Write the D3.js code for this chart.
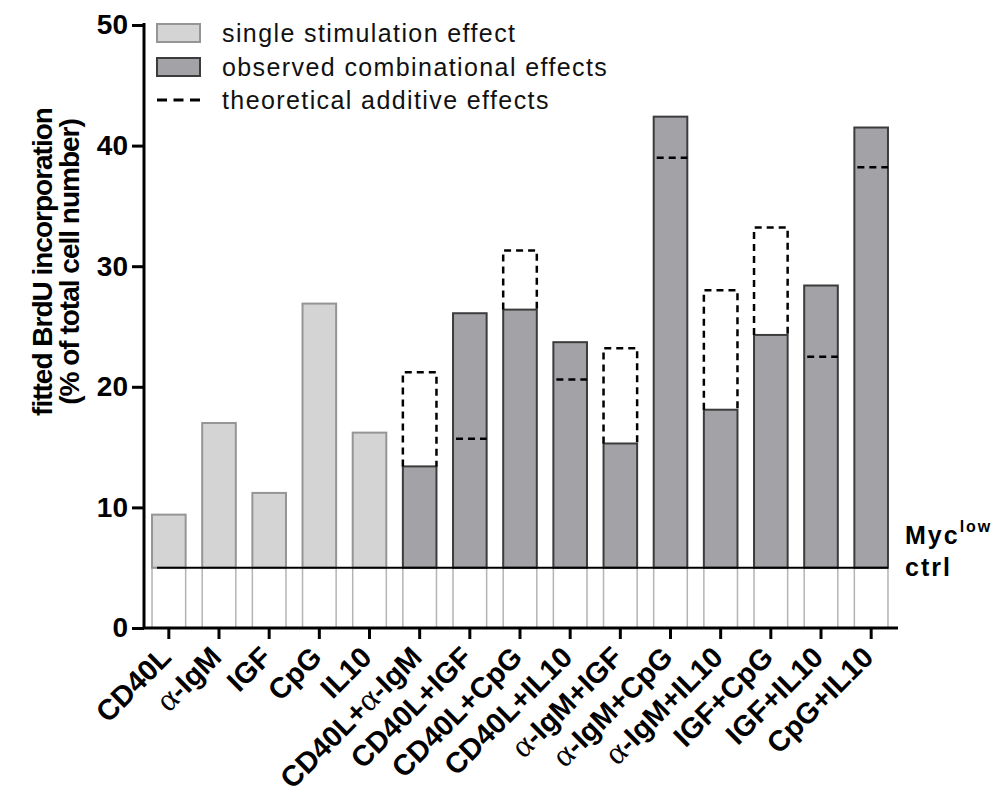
<!DOCTYPE html>
<html>
<head>
<meta charset="utf-8">
<script src="https://cdn.jsdelivr.net/npm/d3@7/dist/d3.min.js"></script>
<style>
  html, body { margin: 0; padding: 0; background: #fff; }
  svg { display: block; font-family: "Liberation Sans", Arial, Helvetica, sans-serif; }
</style>
</head>
<body>
<svg id="chart" width="991" height="787"></svg>
<script>
// Stimulation conditions (x categories)
const categories = [
  "CD40L", "α-IgM", "IGF", "CpG", "IL10",
  "CD40L+α-IgM", "CD40L+IGF", "CD40L+CpG", "CD40L+IL10",
  "α-IgM+IGF", "α-IgM+CpG", "α-IgM+IL10",
  "IGF+CpG", "IGF+IL10", "CpG+IL10"
];
// Bar type: single stimulation vs. observed combination
const barType = [
  "single", "single", "single", "single", "single",
  "combo", "combo", "combo", "combo", "combo",
  "combo", "combo", "combo", "combo", "combo"
];
// Fitted BrdU incorporation (% of total cell number)
const observed = [9.4, 17.0, 11.2, 26.9, 16.2, 13.4, 26.1, 26.4, 23.7, 15.3, 42.4, 18.1, 24.3, 28.4, 41.5];
// Theoretical additive effect of the two single stimulations
const theoretical = [null, null, null, null, null, 21.2, 15.7, 31.3, 20.6, 23.2, 39.0, 28.0, 33.2, 22.5, 38.2];
// Myc-low unstimulated control level
const ctrlLevel = 5;
const yTicks = [0, 10, 20, 30, 40, 50];
const legendLabels = ["single stimulation effect", "observed combinational effects", "theoretical additive effects"];

const svg = d3.select("#chart");
const fillSingle = "#d4d4d4", strokeSingle = "#959595";
const fillCombo = "#a3a2a7", strokeCombo = "#3c3c3c";

const y = d3.scaleLinear().domain([0, 50]).range([628, 25]);
const x = d3.scaleBand().domain(categories).range([144, 896])
  .paddingInner(0.33).paddingOuter(0.16);
const bw = x.bandwidth();

const rows = categories.map((c, i) => ({ c, type: barType[i], v: observed[i], t: theoretical[i] }));

// Lower part of each bar (0 to control level): open outline
svg.append("g").selectAll("rect").data(rows).join("rect")
  .attr("x", d => x(d.c)).attr("width", bw)
  .attr("y", y(ctrlLevel)).attr("height", y(0) - y(ctrlLevel))
  .attr("fill", "#fff").attr("stroke", "#b4b4b4").attr("stroke-width", 1.5);

// Filled bar part above control level
svg.append("g").selectAll("rect").data(rows).join("rect")
  .attr("x", d => x(d.c)).attr("width", bw)
  .attr("y", d => y(d.v)).attr("height", d => y(ctrlLevel) - y(d.v))
  .attr("fill", d => d.type === "single" ? fillSingle : fillCombo)
  .attr("stroke", d => d.type === "single" ? strokeSingle : strokeCombo)
  .attr("stroke-width", 2);

// Theoretical additive effects: dashed box above bar or dashed line inside it
const theo = svg.append("g").attr("fill", "none").attr("stroke", "#000")
  .attr("stroke-width", 2.5).attr("stroke-dasharray", "7,5");
rows.filter(d => d.t != null).forEach(d => {
  const x0 = x(d.c), x1 = x(d.c) + bw;
  if (d.t > d.v) {
    theo.append("path")
      .attr("d", `M${x0},${y(d.v)}V${y(d.t)}H${x1}V${y(d.v)}`);
  } else {
    theo.append("line")
      .attr("x1", x0 + 3).attr("x2", x1)
      .attr("y1", y(d.t)).attr("y2", y(d.t));
  }
});

// Control baseline
svg.append("line")
  .attr("x1", x(categories[0]) + 5).attr("x2", x(categories[categories.length - 1]) + bw)
  .attr("y1", y(ctrlLevel)).attr("y2", y(ctrlLevel))
  .attr("stroke", "#000").attr("stroke-width", 2);

// Y axis
const yAxis = svg.append("g").attr("transform", "translate(144,0)")
  .call(d3.axisLeft(y).tickValues(yTicks).tickSize(12).tickSizeOuter(0).tickPadding(4));
yAxis.select(".domain").attr("stroke-width", 3).attr("d", `M0,${y(0)}V${y(50) - 2}`);
yAxis.selectAll(".tick line").attr("stroke-width", 3);
yAxis.selectAll(".tick text").attr("font-size", 28).attr("font-weight", "bold")
  .attr("font-family", "'Liberation Sans', Arial, sans-serif").attr("fill", "#000");

// X axis
const xAxis = svg.append("g").attr("transform", `translate(0,${y(0)})`)
  .call(d3.axisBottom(x).tickSize(11).tickSizeOuter(0));
xAxis.select(".domain").attr("stroke-width", 3).attr("d", `M${x.range()[0]},0H${x.range()[1] + 2}`);
xAxis.selectAll(".tick line").attr("stroke-width", 3);
xAxis.selectAll(".tick text").remove();

// Rotated category labels; α drawn from a serif face
const xl = svg.append("g");
categories.forEach(c => {
  const t = xl.append("text")
    .attr("transform", `translate(${x(c) + bw / 2 + 4},659) rotate(-45)`)
    .attr("text-anchor", "end")
    .attr("font-size", 29).attr("font-weight", "bold").attr("fill", "#000");
  c.split(/(α)/).filter(s => s.length).forEach(s => {
    const ts = t.append("tspan").text(s);
    if (s === "α") ts.attr("font-family", "'Liberation Serif', 'DejaVu Serif', serif")
      .attr("font-weight", "normal").attr("font-size", 33);
  });
});

// Y axis title
const yt = svg.append("g").attr("transform", "translate(0,262) rotate(-90)")
  .attr("text-anchor", "middle").attr("font-size", 28).attr("font-weight", "bold")
  .attr("letter-spacing", -1);
yt.append("text").attr("x", 0).attr("y", 52).text("fitted BrdU incorporation");
yt.append("text").attr("x", 0).attr("y", 79).text("(% of total cell number)");

// Legend
const lg = svg.append("g");
const legendY = [33, 67, 100];
lg.append("rect").attr("x", 157).attr("y", legendY[0] - 9).attr("width", 43).attr("height", 18)
  .attr("fill", fillSingle).attr("stroke", strokeSingle).attr("stroke-width", 2);
lg.append("rect").attr("x", 157).attr("y", legendY[1] - 9).attr("width", 43).attr("height", 18)
  .attr("fill", fillCombo).attr("stroke", strokeCombo).attr("stroke-width", 2);
lg.append("line").attr("x1", 157).attr("x2", 200).attr("y1", legendY[2]).attr("y2", legendY[2])
  .attr("stroke", "#000").attr("stroke-width", 3).attr("stroke-dasharray", "10,6.5");
lg.selectAll("text").data(legendLabels).join("text")
  .attr("x", 222).attr("y", (d, i) => legendY[i] + 9)
  .attr("font-size", 25).attr("letter-spacing", 1.4).attr("fill", "#111")
  .text(d => d);

// Control label
const ml = svg.append("text").attr("x", 905).attr("y", 544)
  .attr("font-weight", "bold").attr("fill", "#000");
ml.append("tspan").attr("font-size", 25).attr("letter-spacing", 2).text("Myc");
ml.append("tspan").attr("font-size", 16).attr("dy", -12).attr("letter-spacing", 2).text("low");
svg.append("text").attr("x", 905).attr("y", 576)
  .attr("font-size", 25).attr("font-weight", "bold").attr("letter-spacing", 2).text("ctrl");
</script>
</body>
</html>
